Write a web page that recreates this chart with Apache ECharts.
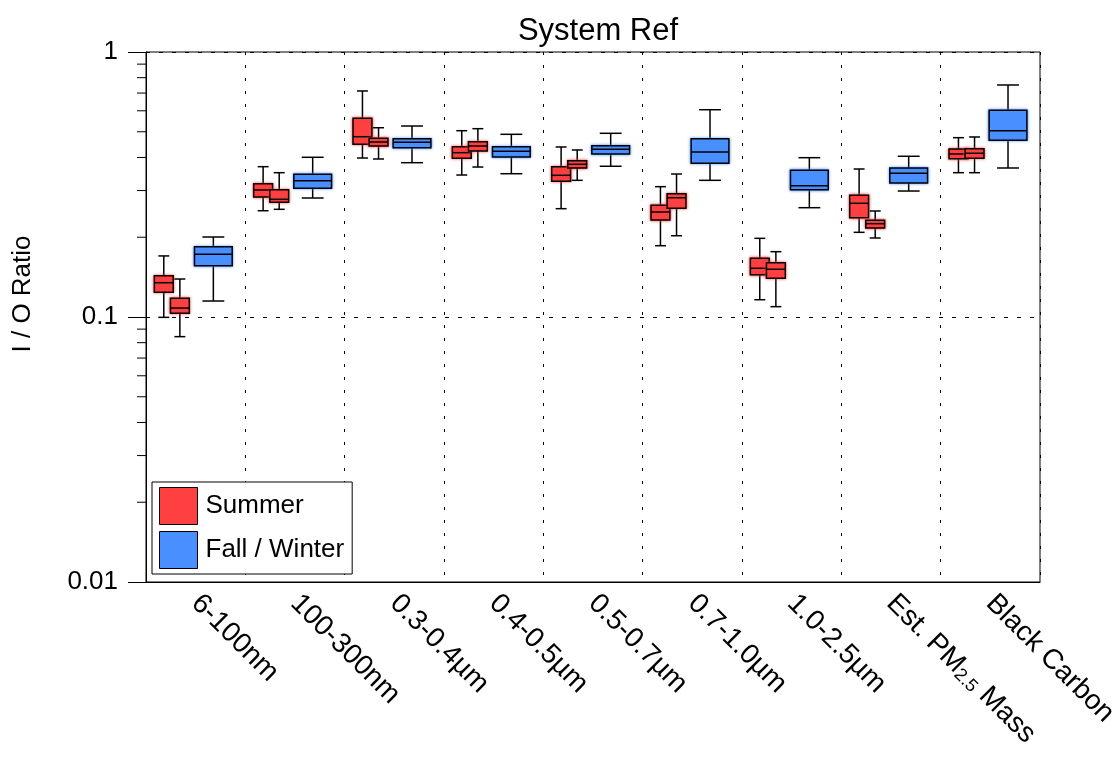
<!DOCTYPE html>
<html>
<head>
<meta charset="utf-8">
<script src="https://cdn.jsdelivr.net/npm/echarts@6/dist/echarts.min.js"></script>
<style>html,body{margin:0;padding:0;background:#fff;}#chart{width:1114px;height:757px;}</style>
</head>
<body>
<div id="chart"></div>
<script>
// ---- data ----
const categories = ['6-100nm', '100-300nm', '0.3-0.4µm', '0.4-0.5µm', '0.5-0.7µm', '0.7-1.0µm', '1.0-2.5µm', 'Est. PM2.5 Mass', 'Black Carbon'];
// each box: [min, q1, median, q3, max]
const summerA = [
  [0.0997, 0.124, 0.1347, 0.1432, 0.170],
  [0.2518, 0.2837, 0.3015, 0.3184, 0.3692],
  [0.3981, 0.4484, 0.4790, 0.5622, 0.7127],
  [0.3434, 0.3971, 0.4169, 0.4392, 0.5047],
  [0.2563, 0.3251, 0.3425, 0.3692, 0.4381],
  [0.1858, 0.2323, 0.2490, 0.2639, 0.3103],
  [0.1162, 0.1444, 0.1527, 0.1665, 0.1981],
  [0.2087, 0.2369, 0.2686, 0.2878, 0.3618],
  [0.3504, 0.3957, 0.4123, 0.4305, 0.4750]
];
const summerB = [
  [0.0843, 0.1033, 0.1081, 0.1177, 0.1391],
  [0.2549, 0.2709, 0.2781, 0.3023, 0.3504],
  [0.3947, 0.4418, 0.4575, 0.4724, 0.5179],
  [0.3681, 0.4231, 0.4418, 0.4587, 0.5136],
  [0.3279, 0.3650, 0.3769, 0.3889, 0.4268],
  [0.2026, 0.2572, 0.2819, 0.2920, 0.3464],
  [0.1094, 0.1400, 0.1514, 0.1603, 0.1764],
  [0.1987, 0.2167, 0.2250, 0.2317, 0.2512],
  [0.3504, 0.3971, 0.4148, 0.4316, 0.4779]
];
const fallWinter = [
  [0.1149, 0.1562, 0.1724, 0.1842, 0.2004],
  [0.2812, 0.3060, 0.3268, 0.3455, 0.4006],
  [0.3822, 0.4354, 0.4563, 0.4708, 0.5257],
  [0.3473, 0.4016, 0.4220, 0.4392, 0.4891],
  [0.3705, 0.4123, 0.4294, 0.4430, 0.4934],
  [0.3279, 0.3802, 0.4195, 0.4708, 0.6056],
  [0.2585, 0.3023, 0.3130, 0.3577, 0.3992],
  [0.2988, 0.3203, 0.3485, 0.3650, 0.4041],
  [0.3650, 0.4643, 0.5047, 0.6026, 0.7508]
];
const yTickValues = [0.01, 0.1, 1];
const yTickLabels = ['0.01', '0.1', '1'];
const yMinorTicks = [0.02, 0.03, 0.04, 0.05, 0.06, 0.07, 0.08, 0.09, 0.2, 0.3, 0.4, 0.5, 0.6, 0.7, 0.8, 0.9];

// ---- styles ----
const RED = '#ff4040';
const BLUE = '#4a8fff';
const FONT = 'Liberation Sans, Arial, sans-serif';

function toRows(arr) { return arr.map((b, i) => [i].concat(b)); }

function boxRenderer(offsetFrac, widthFrac, color) {
  return function (params, api) {
    const ci = api.value(0);
    const mn = api.value(1), q1 = api.value(2), md = api.value(3), q3 = api.value(4), mx = api.value(5);
    const band = api.size([1, 0])[0];
    const c = api.coord([ci, md]);
    const cx = c[0] - band / 2 + offsetFrac * band;
    const w = widthFrac * band;
    const cap = w * 0.58;
    const y = v => api.coord([ci, v])[1];
    const ls = { stroke: '#000', lineWidth: 1.5 };
    return {
      type: 'group',
      children: [
        { type: 'line', shape: { x1: cx, y1: y(mx), x2: cx, y2: y(q3) }, style: ls },
        { type: 'line', shape: { x1: cx, y1: y(q1), x2: cx, y2: y(mn) }, style: ls },
        { type: 'line', shape: { x1: cx - cap / 2, y1: y(mx), x2: cx + cap / 2, y2: y(mx) }, style: ls },
        { type: 'line', shape: { x1: cx - cap / 2, y1: y(mn), x2: cx + cap / 2, y2: y(mn) }, style: ls },
        { type: 'rect', shape: { x: cx - w / 2, y: y(q3), width: w, height: y(q1) - y(q3) },
          style: { fill: color, stroke: '#000', lineWidth: 1.5, shadowBlur: 3, shadowColor: color } },
        { type: 'line', shape: { x1: cx - w / 2, y1: y(md), x2: cx + w / 2, y2: y(md) }, style: ls }
      ]
    };
  };
}

const chart = echarts.init(document.getElementById('chart'), null, { renderer: 'canvas' });
chart.setOption({
  animation: false,
  backgroundColor: '#fff',
  textStyle: { fontFamily: FONT, color: '#000' },
  title: {
    text: 'System Ref', left: 593, textAlign: 'center', top: 11,
    textStyle: { fontFamily: FONT, fontSize: 31, fontWeight: 'normal', color: '#000' }
  },
  grid: {
    left: 146, right: 74, top: 52, bottom: 175, containLabel: false, outerBoundsMode: 'none',
    show: true, borderColor: '#000', borderWidth: 1, backgroundColor: 'transparent'
  },
  legend: {
    orient: 'vertical', left: 152, top: 482,
    data: [{ name: 'Summer', icon: 'rect' }, { name: 'Fall / Winter', icon: 'rect' }],
    itemWidth: 38, itemHeight: 37, itemGap: 6,
    padding: [5, 8, 5, 7],
    borderColor: '#000', borderWidth: 1, backgroundColor: '#fff',
    itemStyle: { borderColor: '#000', borderWidth: 1 },
    textStyle: { fontFamily: FONT, fontSize: 26, color: '#000', padding: [0, 0, 0, 3] }
  },
  xAxis: {
    type: 'category', data: categories, boundaryGap: true,
    axisLine: { lineStyle: { color: '#000', width: 1 } },
    axisTick: { show: false },
    splitLine: { show: true, lineStyle: { color: '#000', width: 1, type: [3, 10] } },
    axisLabel: {
      rotate: -45, interval: 0, margin: 17, fontSize: 28, color: '#000', fontFamily: FONT,
      formatter: v => v.indexOf('PM2.5') >= 0 ? v.replace('PM2.5', 'PM{sub|2.5}') : v,
      rich: { sub: { fontSize: 18, fontFamily: FONT, color: '#000', verticalAlign: 'bottom', lineHeight: 18, padding: [12, 0, 0, 0] } }
    }
  },
  yAxis: {
    type: 'log', logBase: 10, min: 0.01, max: 1,
    name: 'I / O Ratio', nameLocation: 'middle', nameGap: 110,
    nameTextStyle: { fontFamily: FONT, fontSize: 26, color: '#000', padding: [0, 0, 0, 46] },
    axisLine: { show: true, lineStyle: { color: '#000', width: 1 } },
    axisTick: { show: true, length: 18, lineStyle: { color: '#000', width: 1 } },
    axisLabel: {
      fontSize: 26, color: '#000', margin: 28, fontFamily: FONT,
      formatter: v => { const i = yTickValues.findIndex(t => Math.abs(Math.log10(t) - Math.log10(v)) < 1e-6); return i >= 0 ? yTickLabels[i] : ''; }
    },
    splitLine: { show: true, lineStyle: { color: '#000', width: 1, type: [4, 9] } }
  },
  series: [
    {
      name: 'Minor ticks', type: 'custom', silent: true, clip: false,
      data: yMinorTicks.map(v => [0, v]), encode: { x: 0, y: 1 },
      renderItem: (params, api) => {
        const p = api.coord([0, api.value(1)]);
        const x0 = params.coordSys.x;
        return { type: 'line', shape: { x1: x0 - 9, y1: p[1], x2: x0, y2: p[1] }, style: { stroke: '#000', lineWidth: 1 } };
      }
    },
    {
      name: 'Summer', type: 'custom', itemStyle: { color: RED },
      data: toRows(summerA), encode: { x: 0, y: [1, 2, 3, 4, 5] },
      renderItem: boxRenderer(0.179, 0.19, RED)
    },
    {
      name: 'Summer', type: 'custom', itemStyle: { color: RED },
      data: toRows(summerB), encode: { x: 0, y: [1, 2, 3, 4, 5] },
      renderItem: boxRenderer(0.341, 0.19, RED)
    },
    {
      name: 'Fall / Winter', type: 'custom', itemStyle: { color: BLUE },
      data: toRows(fallWinter), encode: { x: 0, y: [1, 2, 3, 4, 5] },
      renderItem: boxRenderer(0.678, 0.38, BLUE)
    }
  ]
});
</script>
</body>
</html>
